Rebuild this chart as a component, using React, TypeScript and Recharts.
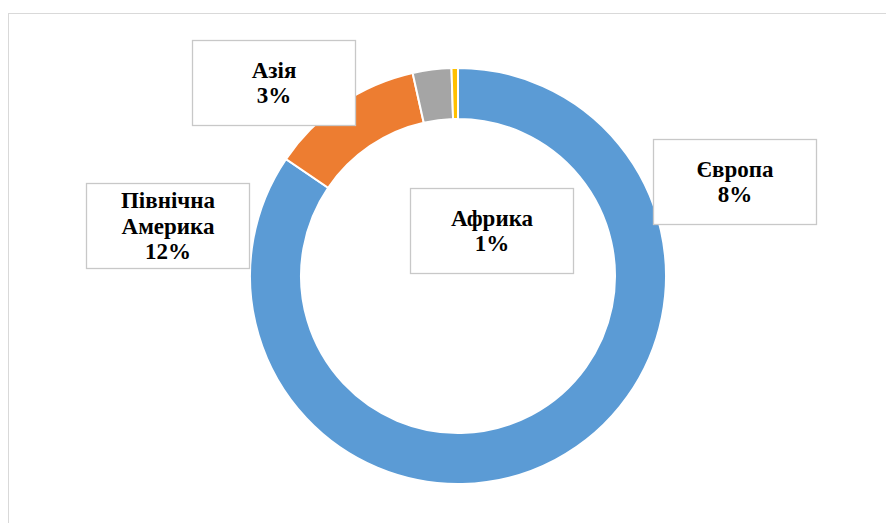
import { PieChart, Pie, Cell } from "recharts";

const regions = ["Європа", "Північна Америка", "Азія", "Африка"];
const shares = [84.5, 12, 3, 0.5];
const labelTexts = ["8%", "12%", "3%", "1%"];
const colors = ["#5B9BD5", "#ED7D31", "#A5A5A5", "#FFC000"];

// label box centres relative to the pie centre
const boxOffsets = [
  [277, -94],
  [-290, -50],
  [-184, -193],
  [34, -45],
];

const data = regions.map((name, i) => ({ name, value: shares[i], text: labelTexts[i] }));

const BOX_W = 163;
const BOX_H = 85;
const LINE_H = 25.5;

function BoxLabel(props: any) {
  const { cx, cy, index } = props;
  const [dx, dy] = boxOffsets[index];
  const x = cx + dx;
  const y = cy + dy;
  const item = data[index];
  const words = item.name.split(" ");
  const lines = [...words, item.text];
  const top = y - ((lines.length - 1) * LINE_H) / 2;
  return (
    <g>
      <rect
        x={x - BOX_W / 2}
        y={y - BOX_H / 2}
        width={BOX_W}
        height={BOX_H}
        fill="#ffffff"
        stroke="#c8c8c8"
        strokeWidth={1.3}
      />
      {lines.map((l, i) => (
        <text
          key={i}
          x={x}
          y={top + i * LINE_H}
          textAnchor="middle"
          dominantBaseline="central"
          style={{ fontFamily: "'Liberation Serif', 'Times New Roman', serif", fontWeight: 700, fontSize: 23 }}
          fill="#000000"
        >
          {l}
        </text>
      ))}
    </g>
  );
}

export default function App() {
  return (
    <div style={{ position: "relative", width: 894, height: 531, margin: -8, background: "#fff", overflow: "hidden" }}>
      <div
        style={{
          position: "absolute",
          left: 7,
          top: 13,
          width: 940,
          height: 560,
          borderTop: "1px solid #d9d9d9",
          borderLeft: "2px solid #d9d9d9",
          boxSizing: "border-box",
        }}
      />
      <div style={{ position: "absolute", left: 0, top: 0 }}>
        <PieChart width={894} height={531} margin={{ top: 0, right: 0, bottom: 0, left: 0 }}>
          <Pie
            data={data}
            dataKey="value"
            nameKey="name"
            cx={458}
            cy={276}
            innerRadius={157}
            outerRadius={208}
            startAngle={90}
            endAngle={-270}
            stroke="#ffffff"
            strokeWidth={2}
            label={BoxLabel}
            labelLine={false}
            isAnimationActive={false}
          >
            {data.map((d, i) => (
              <Cell key={d.name} fill={colors[i]} />
            ))}
          </Pie>
        </PieChart>
      </div>
    </div>
  );
}
